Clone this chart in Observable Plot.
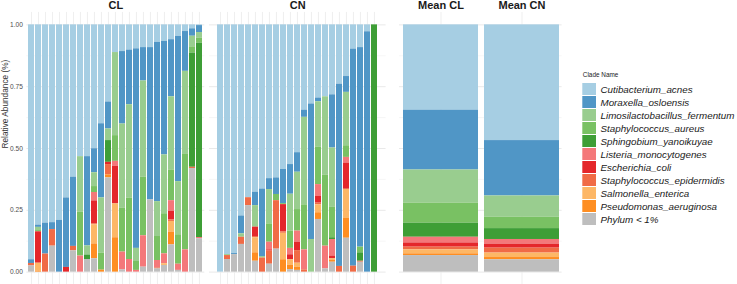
<!DOCTYPE html>
<html>
<head>
<meta charset="utf-8">
<script src="https://cdn.jsdelivr.net/npm/d3@7"></script>
<script src="https://cdn.jsdelivr.net/npm/@observablehq/plot@0.6"></script>
<style>
  body { margin: 0; background: #fff; }
  #chart { position: relative; width: 737px; height: 284px; overflow: hidden; background: #fff; }
  #chart svg { position: absolute; top: 0; overflow: visible; }
</style>
</head>
<body>
<div id="chart"></div>
<script>
// Clades, in legend order (top of each stack first)
const clades = [
  "Cutibacterium_acnes", "Moraxella_osloensis", "Limosilactobacillus_fermentum",
  "Staphylococcus_aureus", "Sphingobium_yanoikuyae", "Listeria_monocytogenes",
  "Escherichia_coli", "Staphylococcus_epidermidis", "Salmonella_enterica",
  "Pseudomonas_aeruginosa", "Phylum < 1%"
];
const cladeColors = [
  "#a6cee3", "#5096c6", "#99cd8f", "#79c163", "#3e9e36", "#f4787a",
  "#e4272b", "#f06b46", "#fdb766", "#fe8e22", "#bebebe"
];

// Relative abundance per sample, columns in the order of `clades`
const clAbundance = [
  [0.950, 0.015, 0,     0,     0,     0,     0,     0.010, 0,     0,     0.025],
  [0.810, 0.009, 0.013, 0.005, 0,     0,     0.127, 0,     0.032, 0.004, 0    ],
  [0.802, 0.125, 0,     0,     0,     0,     0,     0.073, 0,     0,     0    ],
  [0.800, 0.028, 0,     0,     0,     0,     0,     0.067, 0,     0,     0.105],
  [0.791, 0.209, 0,     0,     0,     0,     0,     0,     0,     0,     0    ],
  [0.700, 0.281, 0,     0,     0,     0,     0.019, 0,     0,     0,     0    ],
  [0.616, 0.280, 0,     0,     0,     0,     0,     0.018, 0,     0,     0.086],
  [0.533, 0,     0.225, 0.177, 0,     0.065, 0,     0,     0,     0,     0    ],
  [0.533, 0.361, 0.037, 0,     0.018, 0,     0,     0,     0,     0,     0.051],
  [0.501, 0.097, 0.056, 0.024, 0,     0.034, 0.092, 0.005, 0.077, 0.060, 0.054],
  [0.400, 0.300, 0.223, 0.069, 0,     0,     0,     0,     0,     0.008, 0    ],
  [0.312, 0.109, 0.047, 0,     0.088, 0,     0.009, 0.042, 0,     0.012, 0.381],
  [0.112, 0,     0.336, 0.104, 0,     0.020, 0.152, 0,     0.137, 0.139, 0    ],
  [0.108, 0.293, 0.341, 0.177, 0,     0.072, 0,     0,     0,     0,     0.009],
  [0.102, 0.221, 0.378, 0.248, 0,     0.051, 0,     0,     0,     0,     0    ],
  [0.097, 0.807, 0.053, 0.036, 0,     0.007, 0,     0,     0,     0,     0    ],
  [0.092, 0.135, 0.389, 0.237, 0,     0.127, 0,     0,     0,     0,     0.020],
  [0.092, 0.616, 0,     0,     0,     0,     0,     0,     0,     0,     0.292],
  [0.071, 0.644, 0.141, 0.097, 0,     0.030, 0,     0.004, 0,     0,     0.013],
  [0.067, 0.459, 0.238, 0.162, 0,     0.040, 0,     0,     0.007, 0,     0.027],
  [0.060, 0.231, 0.296, 0.124, 0,     0.043, 0.035, 0.006, 0.043, 0.052, 0.110],
  [0.047, 0.587, 0.215, 0.119, 0,     0.025, 0,     0,     0,     0,     0.007],
  [0.027, 0.161, 0.336, 0.386, 0,     0.090, 0,     0,     0,     0,     0    ],
  [0.016, 0.030, 0.043, 0.025, 0.462, 0,     0,     0.005, 0,     0,     0.419],
  [0.003, 0.028, 0.023, 0.020, 0.786, 0.005, 0,     0,     0,     0,     0.135]
];

const cnAbundance = [
  [1.000, 0,     0,     0,     0,     0,     0,     0,     0,     0,     0    ],
  [0.929, 0,     0.004, 0,     0,     0,     0,     0.016, 0,     0,     0.051],
  [0.925, 0.004, 0,     0,     0,     0,     0,     0,     0,     0,     0.071],
  [0.773, 0.072, 0.014, 0,     0,     0,     0,     0.029, 0,     0,     0.112],
  [0.699, 0,     0,     0,     0,     0,     0,     0.032, 0,     0,     0.269],
  [0.677, 0.054, 0.087, 0,     0,     0,     0.038, 0.005, 0.061, 0.034, 0.044],
  [0.664, 0.273, 0.006, 0,     0,     0,     0,     0.057, 0,     0,     0    ],
  [0.622, 0.044, 0.139, 0.074, 0,     0.031, 0.005, 0.053, 0,     0,     0.032],
  [0.619, 0.067, 0,     0.025, 0,     0,     0,     0.196, 0,     0,     0.093],
  [0.585, 0.138, 0,     0.004, 0,     0,     0.110, 0.006, 0.107, 0.050, 0    ],
  [0.565, 0.120, 0.149, 0.070, 0,     0.026, 0.020, 0,     0.022, 0.018, 0.010],
  [0.517, 0.079, 0.151, 0.087, 0,     0.045, 0.034, 0.051, 0.016, 0.013, 0.007],
  [0.345, 0.029, 0.354, 0.182, 0,     0.081, 0,     0.009, 0,     0,     0    ],
  [0.320, 0.548, 0.132, 0,     0,     0,     0,     0,     0,     0,     0    ],
  [0.296, 0.015, 0.184, 0.151, 0,     0.048, 0.027, 0.007, 0.032, 0.027, 0.213],
  [0.291, 0,     0.317, 0.287, 0,     0.092, 0,     0,     0,     0,     0.013],
  [0.283, 0.215, 0.240, 0.123, 0.007, 0.067, 0.011, 0,     0.006, 0.008, 0.040],
  [0.240, 0.737, 0,     0,     0,     0,     0,     0.023, 0,     0,     0    ],
  [0.209, 0.064, 0.216, 0.047, 0,     0.023, 0.106, 0,     0.118, 0.080, 0.137],
  [0.098, 0.878, 0,     0,     0,     0,     0,     0.024, 0,     0,     0    ],
  [0.092, 0.807, 0,     0.023, 0.034, 0,     0,     0.004, 0,     0,     0.040],
  [0.028, 0.972, 0,     0,     0,     0,     0,     0,     0,     0,     0    ],
  [0,     0,     0,     0,     1.000, 0,     0,     0,     0,     0,     0    ]
];

const meanAbundance = [
  [0.345, 0.242, 0.134, 0.081, 0.057, 0.023, 0.017, 0.011, 0.016, 0.007, 0.067],
  [0.468, 0.224, 0.086, 0.046, 0.044, 0.019, 0.016, 0.020, 0.018, 0.009, 0.050]
];
const meanLabels = ["Mean CL", "Mean CN"];

const yTicks = [0, 0.25, 0.5, 0.75, 1];
const minorTicks = [0.125, 0.375, 0.625, 0.875];

const FONT = "'Liberation Sans', Arial, sans-serif";
const stackOrder = clades.slice().reverse(); // "Phylum < 1%" at the base

function toLong(ids, rows) {
  return rows.flatMap((row, i) =>
    row.map((value, j) => ({id: ids[i], clade: clades[j], value})));
}

function panel({ids, rows, left, width, marginLeft = 0, titles, yAxis = false}) {
  const data = toLong(ids, rows);
  const marks = [
    Plot.ruleY(minorTicks, {stroke: "#f0f0f0", strokeWidth: 0.6}),
    Plot.ruleY(yTicks, {stroke: "#e9e9e9", strokeWidth: 1}),
    Plot.gridX({stroke: "#ebebeb", strokeOpacity: 1, strokeWidth: 0.8}),
    Plot.barY(data, Plot.stackY({x: "id", y: "value", fill: "clade", order: stackOrder})),
    titles.length === 1
      ? Plot.text(titles, {frameAnchor: "top", lineAnchor: "middle", dy: -7.2,
          fontSize: 11, fontWeight: "bold", fill: "#1a1a1a"})
      : Plot.text(titles, {x: (d) => d, frameAnchor: "top", lineAnchor: "middle", dy: -7.2,
          fontSize: 11, fontWeight: "bold", fill: "#1a1a1a"})
  ];
  if (yAxis) {
    marks.push(
      Plot.axisY({ticks: yTicks, tickFormat: d3.format(".2f"), tickSize: 0, tickPadding: 4,
        label: null, fontSize: 6.6, fill: "#4d4d4d"}),
      Plot.text(["Relative Abundance (%)"], {frameAnchor: "left", rotate: -90, dx: -22,
        fontSize: 8.3, fill: "#333"})
    );
  }
  const svg = Plot.plot({
    width, height: 284,
    marginTop: 12, marginBottom: 0, marginLeft, marginRight: 0,
    x: {domain: ids, paddingInner: 0.08, paddingOuter: 0.04, axis: null},
    y: {domain: [-0.05, 1.05], axis: null},
    color: {domain: clades, range: cladeColors},
    style: {fontFamily: FONT, background: "transparent", overflow: "visible"},
    marks
  });
  svg.style.left = left + "px";
  return svg;
}

const chart = document.getElementById("chart");

const clIds = clAbundance.map((_, i) => "CL" + (i + 1));
const cnIds = cnAbundance.map((_, i) => "CN" + (i + 1));

chart.appendChild(panel({ids: clIds, rows: clAbundance, left: 0, width: 204.3,
  marginLeft: 26.35, titles: ["CL"], yAxis: true}));
chart.appendChild(panel({ids: cnIds, rows: cnAbundance, left: 208.9, width: 176.6,
  titles: ["CN"]}));
chart.appendChild(panel({ids: meanLabels, rows: meanAbundance, left: 398.7, width: 162.6,
  titles: meanLabels}));

// Legend
const legend = Plot.plot({
  width: 167, height: 160,
  marginTop: 11.7, marginBottom: 3.3, marginLeft: 12.3, marginRight: 167 - 12.3 - 13.7,
  y: {domain: clades, paddingInner: 0.06, paddingOuter: 0.02, axis: null},
  color: {domain: clades, range: cladeColors},
  style: {fontFamily: FONT, background: "transparent", overflow: "visible"},
  marks: [
    Plot.cell(clades, {y: (d) => d, fill: (d) => d}),
    Plot.text(clades, {y: (d) => d, frameAnchor: "right", textAnchor: "start", dx: 4,
      fontSize: 9.8, fontStyle: "italic", fill: "#1a1a1a"}),
    Plot.text(["Clade Name"], {frameAnchor: "top-left", textAnchor: "start", lineAnchor: "middle",
      dy: -7.2, fontSize: 6.4, fill: "#1a1a1a"})
  ]
});
legend.style.left = "570px";
legend.style.top = "70px";
chart.appendChild(legend);
</script>
</body>
</html>
